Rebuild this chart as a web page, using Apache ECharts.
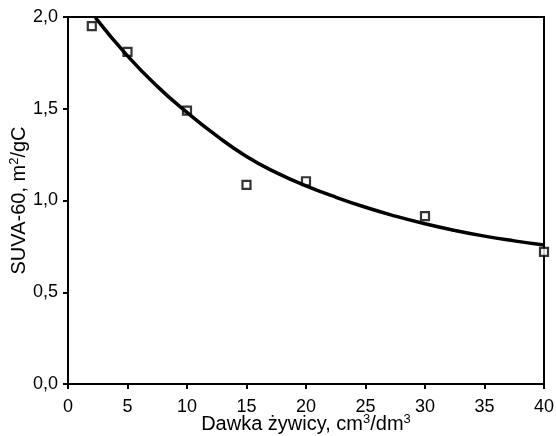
<!DOCTYPE html>
<html><head><meta charset="utf-8">
<script src="https://cdn.jsdelivr.net/npm/echarts@6/dist/echarts.min.js"></script>
<style>html,body{margin:0;padding:0;background:#fff}#c{width:556px;height:436px}</style>
</head><body><div id="c"></div>
<script>
const pointX = [2, 5, 10, 15, 20, 30, 40];
const pointY = [1.95, 1.81, 1.49, 1.085, 1.105, 0.915, 0.72];
const curveX = [2.3, 5, 7.5, 10, 12.5, 15, 17.5, 20, 22.5, 25, 27.5, 30, 32.5, 35, 37.5, 40];
const curveY = [1.997, 1.788, 1.622, 1.480, 1.352, 1.240, 1.152, 1.080, 1.018, 0.963, 0.915, 0.873, 0.837, 0.806, 0.780, 0.757];
const xTicks = [0, 5, 10, 15, 20, 25, 30, 35, 40];
const yTicks = [0, 0.5, 1.0, 1.5, 2.0];
const xTitle = 'Dawka żywicy, cm{s|3}/dm{s|3}';
const yTitle = 'SUVA-60, m{s|2}/gC';

const font = 'Liberation Sans, Arial, sans-serif';
const nameStyle = {
  fontFamily: font, fontSize: 20, color: '#000', lineHeight: 22,
  rich: {s: {fontFamily: font, fontSize: 13, color: '#000', verticalAlign: 'top', lineHeight: 22}}
};
const chart = echarts.init(document.getElementById('c'), null, {renderer: 'canvas'});
chart.setOption({
  animation: false,
  backgroundColor: '#fff',
  grid: {left: 68, right: 12, top: 17, bottom: 52, containLabel: false, outerBoundsMode: 'none',
    show: true, borderColor: '#000', borderWidth: 2, backgroundColor: 'transparent'},
  xAxis: {
    type: 'value', min: xTicks[0], max: xTicks[xTicks.length-1], interval: 5,
    name: xTitle, nameLocation: 'middle', nameGap: 29, nameMoveOverlap: false,
    nameTextStyle: nameStyle,
    axisLine: {lineStyle: {color: '#000', width: 2}},
    axisTick: {show: true, length: 5, lineStyle: {color: '#000', width: 2}},
    axisLabel: {fontFamily: font, fontSize: 18, color: '#000', margin: 14},
    splitLine: {show: false}
  },
  yAxis: {
    type: 'value', min: yTicks[0], max: yTicks[yTicks.length-1], interval: 0.5,
    name: yTitle, nameLocation: 'middle', nameGap: 38, nameMoveOverlap: false,
    nameTextStyle: nameStyle,
    axisLine: {lineStyle: {color: '#000', width: 2}},
    axisTick: {show: true, length: 5, lineStyle: {color: '#000', width: 2}},
    axisLabel: {fontFamily: font, fontSize: 18, color: '#000', margin: 10,
      formatter: v => v.toFixed(1).replace('.', ',')},
    splitLine: {show: false}
  },
  series: [
    {
      type: 'line', smooth: true, showSymbol: false, clip: true,
      data: curveX.map((x, i) => [x, curveY[i]]),
      lineStyle: {color: '#000', width: 3.5}
    },
    {
      type: 'scatter', symbol: 'rect', symbolSize: 8, clip: false,
      data: pointX.map((x, i) => [x, pointY[i]]),
      itemStyle: {color: '#fff', borderColor: '#000', borderWidth: 2.2}
    }
  ]
});
</script></body></html>
